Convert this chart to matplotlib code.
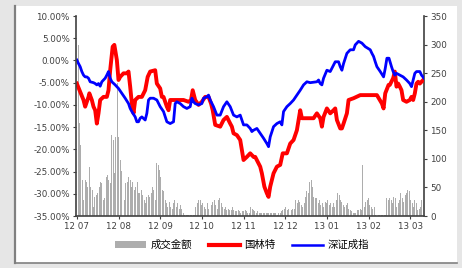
import numpy as np
import matplotlib
matplotlib.use("Agg")
import matplotlib.pyplot as plt
from matplotlib.patches import Rectangle, Patch
from matplotlib.lines import Line2D
from matplotlib.ticker import FuncFormatter

plt.rcParams['font.family'] = ['DejaVu Sans', 'Noto Sans CJK SC']

month_labels = ['12 07', '12 08', '12 09', '12 10', '12 11', '12 12', '13 01', '13 02', '13 03']
legend_labels = ['成交金额', '国林特', '深证成指']

# x in months since 2012-07, y in percent
red_x = [0.00, 0.16, 0.20, 0.28, 0.30, 0.36, 0.40, 0.44, 0.48, 0.52, 0.56, 0.64, 0.72, 0.76,
         0.80, 0.86, 0.90, 0.96, 1.00, 1.04, 1.12, 1.20, 1.24, 1.28, 1.32, 1.36, 1.40, 1.48,
         1.56, 1.64, 1.70, 1.76, 1.88, 1.92, 2.00, 2.04, 2.08, 2.16, 2.20, 2.24, 2.36, 2.56,
         2.68, 2.74, 2.78, 2.84, 2.92, 3.00, 3.08, 3.16, 3.22, 3.26, 3.32, 3.44, 3.52, 3.60,
         3.68, 3.72, 3.76, 3.84, 3.92, 4.00, 4.08, 4.16, 4.24, 4.28, 4.40, 4.44, 4.50, 4.56,
         4.60, 4.64, 4.72, 4.80, 4.88, 4.94, 5.04, 5.12, 5.20, 5.28, 5.36, 5.40, 5.52, 5.68,
         5.76, 5.84, 5.88, 5.92, 6.00, 6.08, 6.16, 6.20, 6.24, 6.32, 6.36, 6.40, 6.48, 6.52,
         6.64, 6.80, 6.96, 7.20, 7.32, 7.36, 7.40, 7.48, 7.51, 7.59, 7.63, 7.67, 7.71, 7.75,
         7.79, 7.83, 7.91, 7.99, 8.03, 8.07, 8.11, 8.15, 8.19, 8.23, 8.27, 8.31]
red_y = [-5.2, -8.9, -10.4, -8.2, -7.4, -8.9, -10.4, -11.2, -14.2, -11.9, -8.9, -8.2, -8.2, -6.7,
         -2.2, 3.1, 3.5, 0.1, -4.4, -3.7, -2.9, -2.9, -2.5, -5.9, -9.7, -11.9, -8.9, -8.2,
         -8.2, -6.7, -3.7, -2.5, -2.2, -5.2, -6.3, -8.2, -8.2, -10.4, -11.2, -8.9, -8.9, -8.9,
         -9.3, -8.9, -6.7, -8.9, -10.0, -9.3, -8.2, -8.2, -9.7, -11.2, -14.5, -14.9, -13.4, -12.7,
         -14.2, -14.9, -16.4, -16.8, -17.9, -22.4, -21.7, -20.9, -21.7, -21.7, -23.9, -25.4, -28.4, -29.9,
         -30.7, -28.4, -25.4, -23.9, -23.5, -20.9, -20.9, -18.7, -17.9, -15.7, -11.2, -13.0, -13.0, -13.0,
         -11.9, -13.0, -14.9, -12.7, -10.8, -11.9, -11.2, -10.8, -13.4, -15.3, -15.3, -14.2, -11.9, -8.9,
         -8.5, -7.8, -7.8, -7.8, -9.7, -10.8, -7.4, -5.5, -5.5, -4.0, -2.5, -5.9, -5.2, -5.9,
         -6.7, -8.9, -9.3, -8.9, -8.2, -8.9, -7.4, -5.2, -4.8, -5.2, -4.8, -4.4]

blue_x = [0.00, 0.04, 0.08, 0.12, 0.16, 0.20, 0.24, 0.28, 0.32, 0.40, 0.44, 0.48, 0.52, 0.56,
          0.60, 0.64, 0.68, 0.72, 0.76, 0.80, 0.84, 0.92, 1.00, 1.08, 1.16, 1.24, 1.28, 1.32,
          1.40, 1.44, 1.48, 1.52, 1.56, 1.64, 1.68, 1.72, 1.76, 1.84, 1.92, 2.00, 2.08, 2.16,
          2.24, 2.32, 2.36, 2.40, 2.48, 2.56, 2.64, 2.72, 2.76, 2.80, 2.84, 2.92, 3.00, 3.04,
          3.12, 3.16, 3.20, 3.28, 3.36, 3.44, 3.52, 3.60, 3.68, 3.76, 3.84, 3.92, 4.00, 4.08,
          4.16, 4.20, 4.24, 4.32, 4.40, 4.48, 4.56, 4.60, 4.64, 4.72, 4.80, 4.88, 4.92, 4.96,
          5.04, 5.12, 5.20, 5.28, 5.36, 5.44, 5.52, 5.60, 5.76, 5.80, 5.84, 5.88, 5.92, 6.00,
          6.08, 6.16, 6.20, 6.28, 6.32, 6.36, 6.40, 6.48, 6.56, 6.64, 6.68, 6.76, 6.84, 6.92,
          7.04, 7.08, 7.12, 7.16, 7.20, 7.28, 7.36, 7.40, 7.44, 7.49, 7.55, 7.59, 7.63, 7.67,
          7.75, 7.83, 7.91, 7.99, 8.03, 8.07, 8.11, 8.15, 8.23, 8.27, 8.33]
blue_y = [0.1, -0.7, -1.4, -2.5, -3.3, -3.7, -3.7, -4.0, -4.8, -5.0, -5.2, -5.5, -5.2, -5.8,
          -4.8, -4.4, -4.0, -3.3, -2.5, -4.0, -4.8, -5.5, -6.3, -7.4, -8.5, -9.7, -10.8, -11.5,
          -12.7, -13.8, -13.8, -13.0, -12.7, -13.4, -11.9, -8.9, -8.5, -8.5, -8.9, -10.4, -11.5, -13.8,
          -14.2, -13.8, -9.7, -9.3, -9.7, -10.4, -10.8, -10.4, -8.5, -9.3, -9.7, -10.0, -9.7, -8.5,
          -8.2, -7.8, -8.9, -10.4, -12.3, -12.3, -10.4, -9.3, -10.4, -12.3, -12.7, -12.3, -14.5, -14.5,
          -15.3, -16.0, -15.7, -15.3, -16.4, -17.5, -18.7, -19.4, -17.2, -14.9, -14.2, -13.8, -14.5, -11.5,
          -10.4, -9.7, -8.9, -7.8, -6.7, -5.5, -4.8, -5.0, -4.8, -4.4, -5.2, -5.5, -4.0, -2.2,
          -2.5, -1.0, -0.3, -0.3, -1.4, -2.2, -0.7, 1.6, 2.4, 2.4, 3.5, 4.3, 3.9, 3.1,
          2.4, 1.6, 0.9, -0.3, -1.4, -2.5, -3.7, -1.8, 0.5, 0.5, -1.4, -2.5, -3.3, -2.9,
          -3.3, -3.7, -4.4, -5.2, -5.9, -4.4, -2.9, -2.5, -2.5, -3.3, -4.0]

# daily turnover, right axis
volume = [299, 162, 124, 63, 28, 63, 60, 51, 86, 51, 46, 16, 34, 37, 40, 51, 60, 57, 28, 31,
          69, 72, 63, 57, 142, 133, 75, 139, 232, 139, 98, 78, 40, 28, 57, 60, 69, 63, 51, 60,
          46, 51, 60, 40, 40, 46, 37, 28, 22, 34, 37, 34, 40, 51, 46, 28, 92, 89, 81, 69,
          46, 43, 28, 22, 16, 25, 16, 13, 22, 28, 16, 22, 13, 19, 13, 5, 2, 2, 2, 2,
          2, 2, 2, 2, 16, 22, 28, 28, 19, 22, 16, 13, 22, 13, 11, 19, 25, 28, 19, 13,
          28, 31, 22, 16, 13, 16, 11, 13, 11, 11, 16, 11, 8, 8, 11, 8, 5, 8, 8, 11,
          8, 5, 5, 16, 13, 11, 8, 5, 8, 5, 5, 5, 5, 5, 5, 5, 5, 5, 5, 5,
          5, 5, 2, 5, 5, 8, 11, 13, 16, 11, 13, 16, 11, 13, 13, 28, 22, 28, 25, 19,
          16, 22, 34, 43, 40, 60, 63, 51, 34, 31, 31, 22, 28, 19, 22, 16, 25, 22, 28, 19,
          22, 16, 22, 16, 28, 40, 37, 28, 25, 19, 16, 19, 22, 13, 11, 8, 5, 5, 5, 11,
          11, 13, 11, 89, 16, 25, 28, 31, 19, 16, 13, 16, 2, 2, 2, 2, 2, 2, 2, 2,
          31, 28, 31, 28, 22, 34, 31, 16, 22, 28, 40, 31, 25, 37, 40, 45, 43, 28, 22, 16,
          28, 22, 11, 13, 16, 28]

W, H = 462, 268
fig = plt.figure(figsize=(W / 100, H / 100), dpi=100, facecolor='#e6e6e6')

# white panel with shadow edges
fig.add_artist(Rectangle((15 / W, 1 - 263 / H), 442 / W, 257 / H, transform=fig.transFigure,
                         facecolor='white', edgecolor='none', zorder=0))
fig.add_artist(Line2D([15 / W, 15 / W], [1 - 263 / H, 1 - 6 / H], transform=fig.transFigure,
                      color='#808080', lw=1.6, zorder=1))
fig.add_artist(Line2D([15 / W, 457 / W], [1 - 263 / H, 1 - 263 / H], transform=fig.transFigure,
                      color='#808080', lw=1.2, zorder=1))

ax = fig.add_axes([76 / W, 1 - 216 / H, 348 / W, 200 / H])
ax2 = ax.twinx()
ax.set_zorder(ax2.get_zorder() + 1)
ax.patch.set_visible(False)
ax2.patch.set_visible(False)

n = len(volume)
bx = np.linspace(0.03, 8.28, n)
ax2.bar(bx, volume, width=(bx[1] - bx[0]) * 0.7, color='#adadad', linewidth=0)
ax2.set_ylim(0, 350)
ax2.set_yticks(np.arange(0, 351, 50))

ax.plot(red_x, red_y, color='#ff0000', lw=2.8, solid_joinstyle='round')
ax.plot(blue_x, blue_y, color='#0000ff', lw=2.0, solid_joinstyle='round')
ax.set_ylim(-35, 10)
ax.set_yticks(np.arange(-35, 10.1, 5))
ax.yaxis.set_major_formatter(FuncFormatter(lambda v, p: '%.2f%%' % v))
ax.set_xlim(-0.02, 8.33)
ax.set_xticks(range(len(month_labels)))
ax.set_xticklabels(month_labels)

for a in (ax, ax2):
    a.spines['top'].set_visible(False)
    for s in ('left', 'right', 'bottom'):
        a.spines[s].set_color('#404040')
        a.spines[s].set_linewidth(1.2)
    a.tick_params(labelsize=6.3, colors='#404040', length=2.5, width=0.8, pad=2)
ax.spines['right'].set_visible(False)
ax2.spines['left'].set_visible(False)
ax2.spines['bottom'].set_visible(False)

handles = [Patch(facecolor='#adadad', edgecolor='none'),
           Line2D([], [], color='#ff0000', lw=3.0),
           Line2D([], [], color='#0000ff', lw=1.8)]
fig.legend(handles, legend_labels, loc='center', bbox_to_anchor=(242 / W, 1 - 245 / H),
           ncol=3, frameon=False, fontsize=7.5, handlelength=3.0, handleheight=0.55,
           columnspacing=1.6, handletextpad=0.4)

fig.savefig('out.png', dpi=100, facecolor=fig.get_facecolor())
